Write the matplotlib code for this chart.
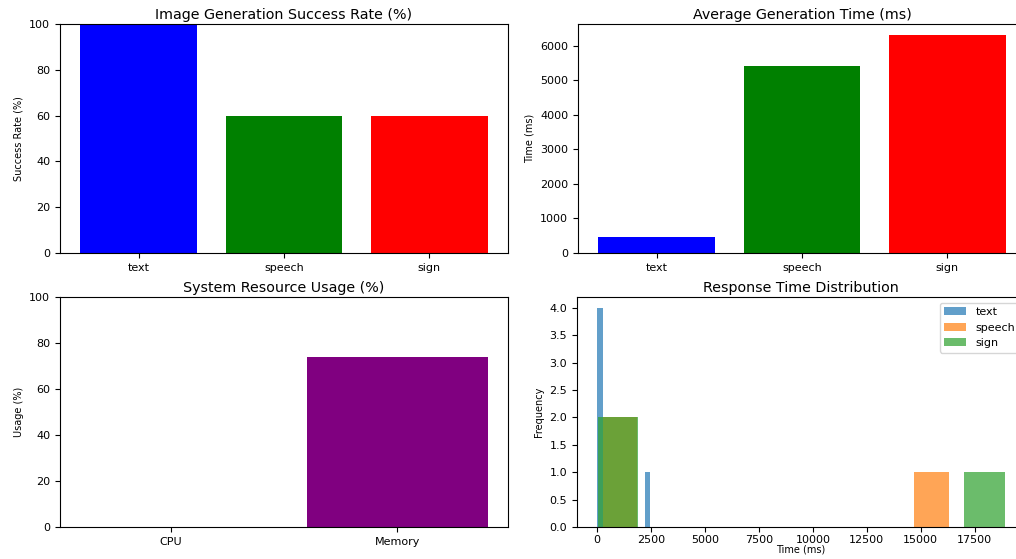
import matplotlib
matplotlib.use("Agg")
import matplotlib.pyplot as plt

# Success rate per input mode (%)
modes = ["text", "speech", "sign"]
success_rate = [100, 60, 60]

# Average generation time per input mode (ms)
avg_time = [470, 5420, 6320]

# System resource usage (%)
resources = ["CPU", "Memory"]
usage = [0, 74]

# Individual response times (ms) per input mode
resp_text = [10, 60, 120, 180, 2460]
resp_speech = [250, 400, 16300]
resp_sign = [20, 90, 18890]

bar_colors = ["blue", "green", "red"]

W, H = 1016, 559
fig = plt.figure(figsize=(W / 100, H / 100), dpi=100)


def add_ax(x0, y0, x1, y1):
    return fig.add_axes([x0 / W, 1 - y1 / H, (x1 - x0) / W, (y1 - y0) / H])


TITLE = 10.3
TICK = 8
LABEL = 7

ax1 = add_ax(60, 24, 508, 253)
ax2 = add_ax(578, 24, 1026, 253)
ax3 = add_ax(60, 297, 508, 527)
ax4 = add_ax(577, 297, 1025, 527)

ax1.bar(modes, success_rate, color=bar_colors)
ax1.set_ylim(0, 100)
ax1.set_title("Image Generation Success Rate (%)", fontsize=TITLE, pad=3.5)
ax1.set_ylabel("Success Rate (%)", fontsize=LABEL)

ax2.bar(modes, avg_time, color=bar_colors)
ax2.set_title("Average Generation Time (ms)", fontsize=TITLE, pad=3.5)
ax2.set_ylabel("Time (ms)", fontsize=LABEL)

ax3.bar(resources, usage, color="purple")
ax3.set_ylim(0, 100)
ax3.set_title("System Resource Usage (%)", fontsize=TITLE, pad=3.5)
ax3.set_ylabel("Usage (%)", fontsize=LABEL)

ax4.hist(resp_text, alpha=0.7, label="text")
ax4.hist(resp_speech, alpha=0.7, label="speech")
ax4.hist(resp_sign, alpha=0.7, label="sign")
ax4.set_title("Response Time Distribution", fontsize=TITLE, pad=3.5)
ax4.set_xlabel("Time (ms)", fontsize=LABEL, labelpad=0)
ax4.set_ylabel("Frequency", fontsize=LABEL)
ax4.legend(loc="upper right", fontsize=8)

for ax in (ax1, ax2, ax3, ax4):
    ax.tick_params(labelsize=TICK)
ax4.tick_params(axis="x", pad=2)

fig.savefig("out.png", dpi=100)
